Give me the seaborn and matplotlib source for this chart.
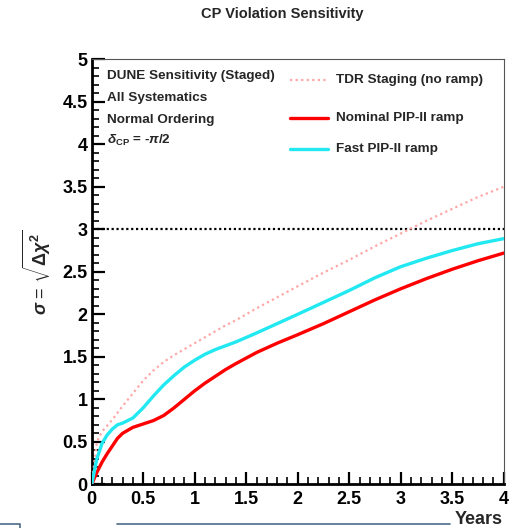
import matplotlib
matplotlib.use("Agg")
import matplotlib.pyplot as plt
import seaborn as sns
import pandas as pd
from matplotlib.ticker import MultipleLocator
from matplotlib.lines import Line2D

years = [0, 0.05, 0.1, 0.15, 0.2, 0.25, 0.3, 0.4, 0.5, 0.6, 0.7, 0.8, 0.9, 1.0, 1.1, 1.2, 1.3, 1.4,
         1.6, 1.8, 2.0, 2.25, 2.5, 2.75, 3.0, 3.25, 3.5, 3.75, 4.0]
nominal = [0, 0.14, 0.26, 0.36, 0.45, 0.54, 0.60, 0.67, 0.71, 0.75, 0.81, 0.90, 1.00, 1.10, 1.19, 1.27,
           1.35, 1.42, 1.55, 1.66, 1.76, 1.89, 2.03, 2.17, 2.30, 2.42, 2.53, 2.63, 2.72]
fast = [0, 0.30, 0.48, 0.58, 0.65, 0.70, 0.72, 0.78, 0.90, 1.04, 1.17, 1.28, 1.38, 1.46, 1.53, 1.585,
        1.63, 1.675, 1.78, 1.89, 2.00, 2.14, 2.28, 2.43, 2.56, 2.66, 2.75, 2.83, 2.89]
tdr = [0, 0.50, 0.62, 0.69, 0.76, 0.84, 0.92, 1.07, 1.22, 1.34, 1.44, 1.52, 1.59, 1.66, 1.73, 1.80,
       1.87, 1.93, 2.07, 2.20, 2.33, 2.49, 2.64, 2.80, 2.95, 3.10, 3.24, 3.38, 3.50]

series_names = ["TDR Staging (no ramp)", "Nominal PIP-II ramp", "Fast PIP-II ramp"]
info_lines = ["DUNE Sensitivity (Staged)", "All Systematics", "Normal Ordering"]
title = "CP Violation Sensitivity"
tick_vals = [0, 0.5, 1, 1.5, 2, 2.5, 3, 3.5, 4]
ytick_vals = [0, 0.5, 1, 1.5, 2, 2.5, 3, 3.5, 4, 4.5, 5]

sns.set_theme(style="white")
plt.rcParams['font.family'] = ['Liberation Sans', 'DejaVu Sans']
plt.rcParams['font.weight'] = 'bold'
plt.rcParams['mathtext.fontset'] = 'custom'
plt.rcParams['mathtext.rm'] = 'Liberation Sans'
plt.rcParams['mathtext.it'] = 'Liberation Sans:italic'
plt.rcParams['mathtext.bf'] = 'Liberation Sans:bold'

n = len(years)
df = pd.DataFrame({"Years": years * 3,
                   "sigma": tdr + nominal + fast,
                   "series": [series_names[0]] * n + [series_names[1]] * n + [series_names[2]] * n})

fig = plt.figure(figsize=(5.11, 5.28), dpi=100)
ax = fig.add_axes([91.7 / 511, 1 - 484.3 / 528, (503.7 - 91.7) / 511, (484.3 - 59.3) / 528])

styles = {series_names[0]: dict(color="#ffa6a6", lw=1.6, ls=(0, (1, 1.5))),
          series_names[1]: dict(color="#ff0000", lw=2.4, ls="-"),
          series_names[2]: dict(color="#22e8f2", lw=2.4, ls="-")}
for name in series_names:
    sub = df[df.series == name]
    sns.lineplot(data=sub, x="Years", y="sigma", ax=ax, color=styles[name]["color"],
                 lw=styles[name]["lw"], ls=styles[name]["ls"], legend=False, zorder=3)

ax.axhline(3, color="black", lw=1.6, ls=(0, (1, 1.2)), zorder=2)

ax.set_xlim(0, 4)
ax.set_ylim(0, 5)
ax.xaxis.set_minor_locator(MultipleLocator(0.1))
ax.yaxis.set_minor_locator(MultipleLocator(0.1))
ax.set_xticks(tick_vals)
ax.set_xticklabels([f"{v:g}" for v in tick_vals])
ax.set_yticks(ytick_vals)
ax.set_yticklabels([f"{v:g}" for v in ytick_vals])
ax.tick_params(axis="both", which="major", direction="in", length=9, width=1.6,
               labelsize=13, colors="black", bottom=True, left=True, top=False, right=False)
ax.tick_params(axis="x", which="major", pad=5)
ax.tick_params(axis="y", which="major", pad=3)
ax.tick_params(axis="both", which="minor", direction="in", length=5, width=1.4,
               bottom=True, left=True, top=False, right=False)
for lab in ax.get_xticklabels() + ax.get_yticklabels():
    lab.set_fontweight("bold")

for side in ["left", "bottom"]:
    ax.spines[side].set_linewidth(2.0)
    ax.spines[side].set_color("black")
for side in ["top", "right"]:
    ax.spines[side].set_linewidth(0.8)
    ax.spines[side].set_color("#555555")
ax.grid(False)

ax.set_xlabel("")
ax.set_ylabel("")
fig.text(503 / 511, 1 - 519 / 528, "Years", ha="right", va="center", fontsize=13, fontweight="bold")
fig.text(37 / 511, 1 - 272 / 528, r"$\sigma$ = $\sqrt{\Delta\chi^2}$", rotation=90,
         ha="center", va="center", fontsize=13, fontweight="normal")
fig.text(282 / 511, 1 - 14 / 528, title, ha="center", va="center", fontsize=10.5, fontweight="bold")

info_y = [4.80, 4.55, 4.28]
for t, yy in zip(info_lines, info_y):
    ax.text(0.145, yy, t, ha="left", va="center", fontsize=9.7, fontweight="bold")
ax.text(0.145, 4.04, r"$\delta_{\mathbf{CP}}$ = -$\pi$/2", ha="left", va="center", fontsize=9.7, fontweight="bold")

leg_y = [4.76, 4.31, 3.94]
for name, yy in zip(series_names, leg_y):
    st = styles[name]
    ax.plot([1.93, 2.29], [yy, yy], color=st["color"], lw=st["lw"], ls=st["ls"])
    ax.text(2.37, yy, name, ha="left", va="center", fontsize=9.7, fontweight="bold")

# screenshot frame artifacts at the bottom
fig.add_artist(Line2D([117 / 511, 450 / 511], [1 - 524 / 528, 1 - 524 / 528], color="#4d6b8a", lw=1.2))
fig.add_artist(Line2D([0, 20 / 511, 20 / 511], [1 - 524 / 528, 1 - 524 / 528, 0], color="#4d6b8a", lw=1.2))

fig.savefig("out.png", dpi=100, facecolor="white")
